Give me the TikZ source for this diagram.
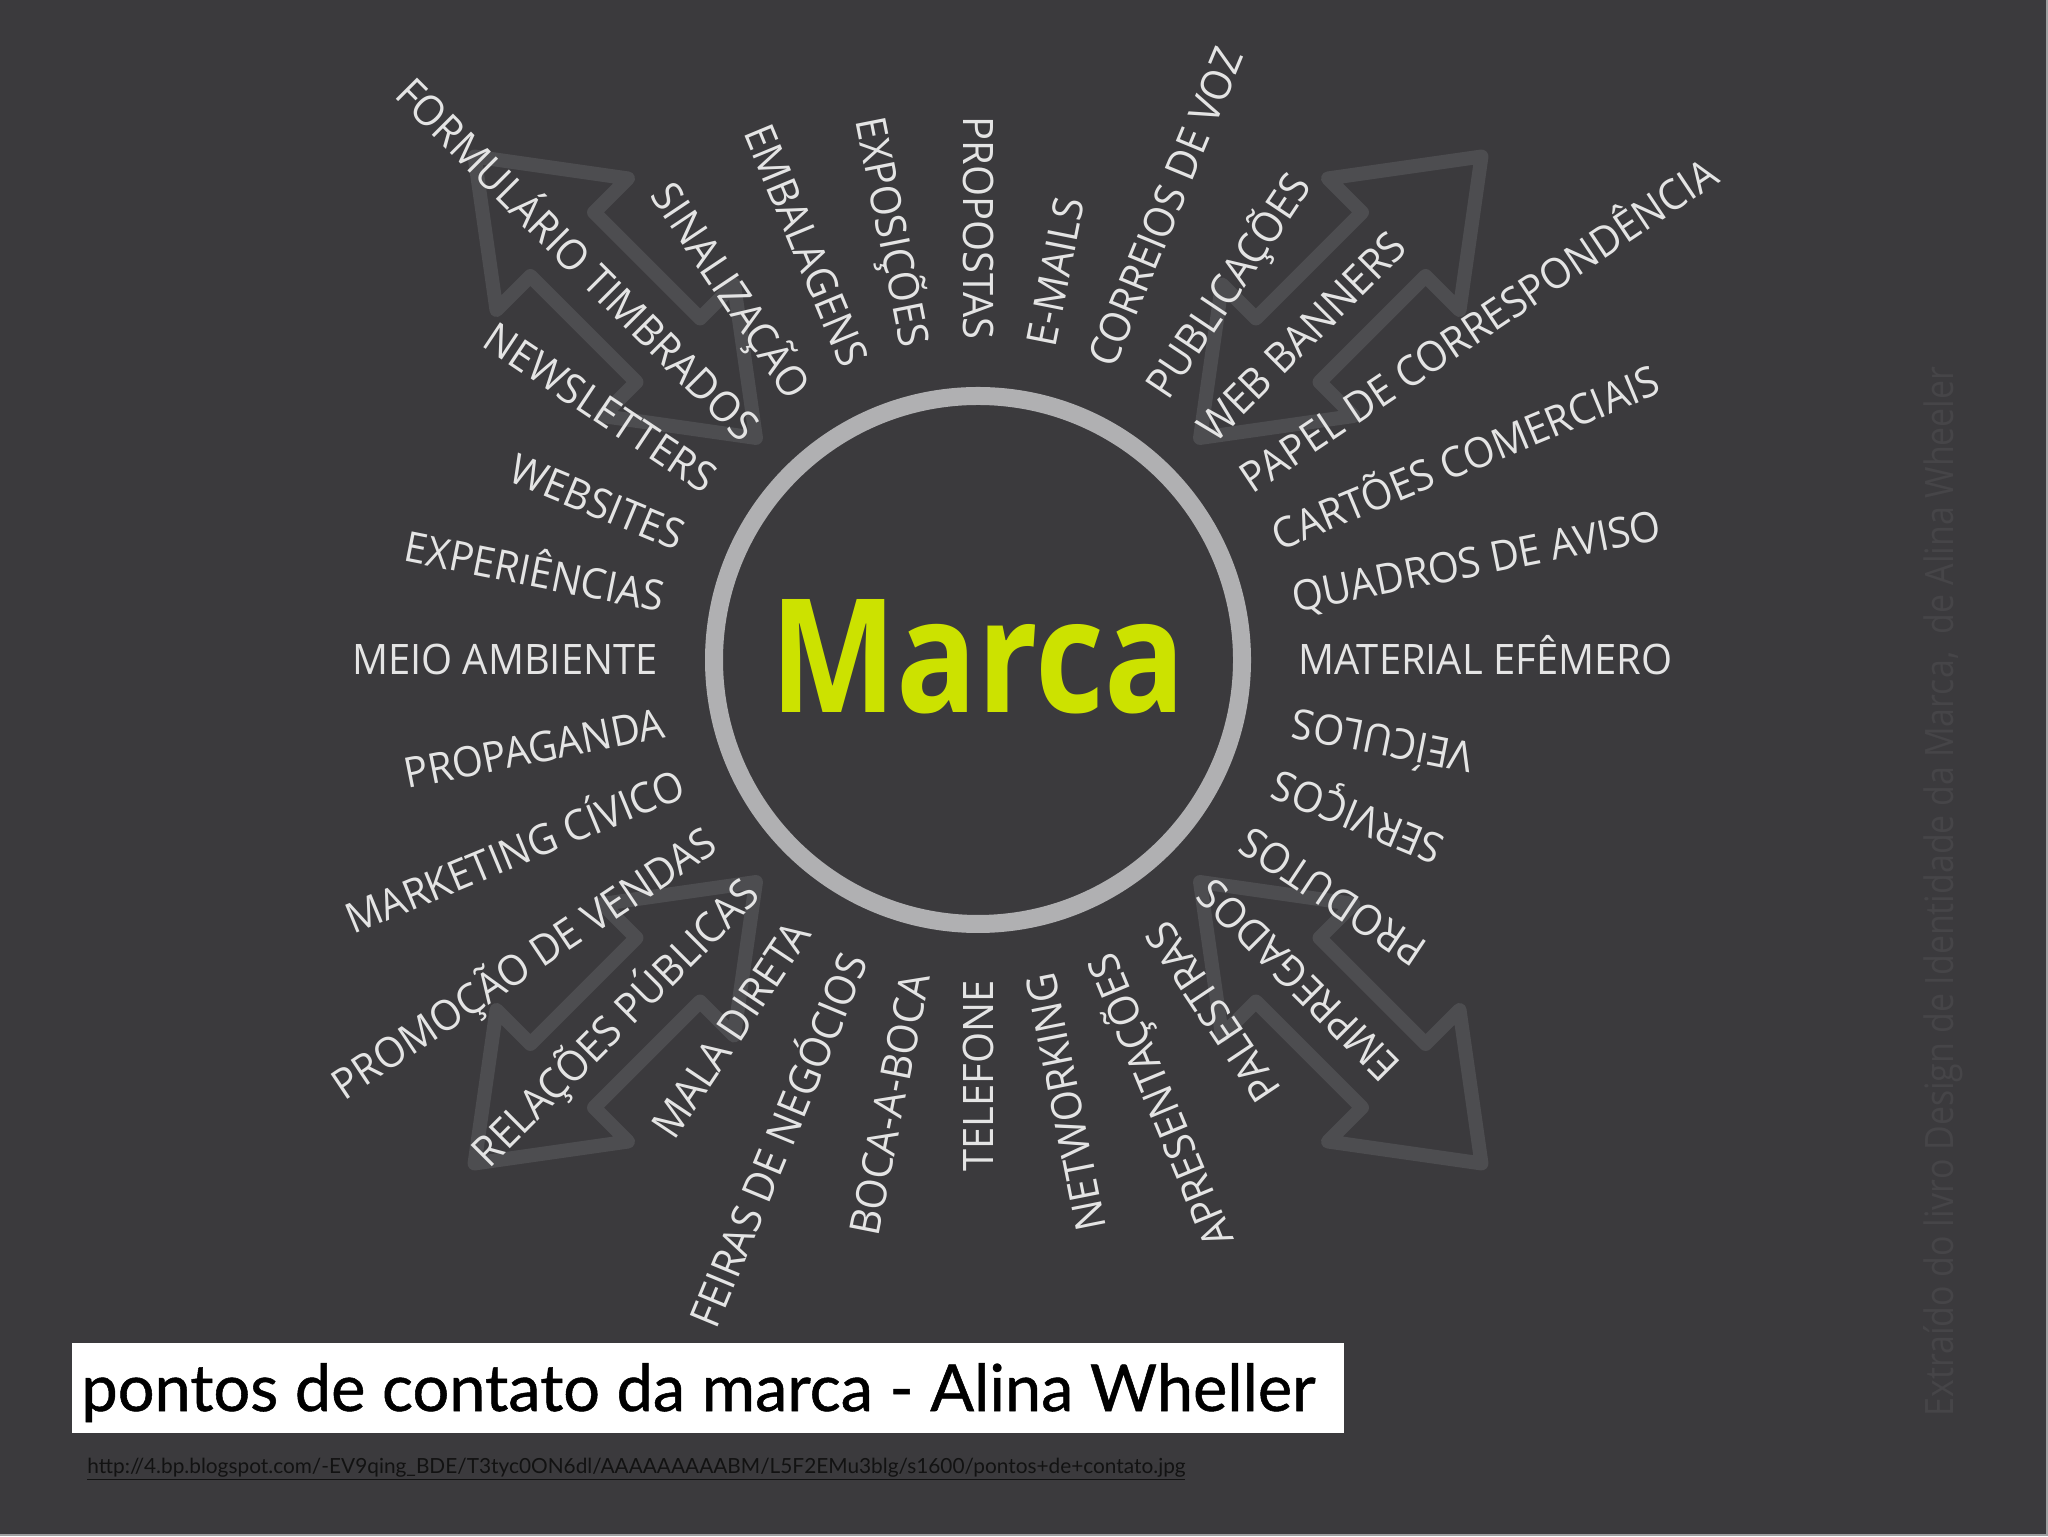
\documentclass[tikz,border=0pt]{standalone}
\usepackage{fontspec}
\usepackage{graphicx}
\usetikzlibrary{calc}
\setmainfont{Open Sans}
\newfontfamily\lblfont[FakeStretch=0.95]{Open Sans}
\newfontfamily\ttlfont[FakeBold=0.8]{Lato}
\newfontfamily\urlfont{Lato}
\definecolor{bgc}{RGB}{59,58,61}
\definecolor{lblc}{RGB}{228,228,228}
\definecolor{ringc}{RGB}{176,176,178}
\definecolor{arrc}{RGB}{77,77,80}
\definecolor{marcac}{RGB}{204,226,0}
\definecolor{wmc}{RGB}{70,69,72}
\definecolor{edgec}{RGB}{160,160,162}
\tikzset{
  lbl/.style={font=\lblfont\fontsize{21pt}{21pt}\selectfont, text=lblc, inner sep=0pt, text height=15pt, text depth=0pt},
  bigarrow/.style={draw=arrc, line width=7pt, line join=round, line cap=round}
}
\begin{document}
\begin{tikzpicture}[x=0.5pt,y=0.5pt]
\useasboundingbox (0,0) rectangle (2048,1536);
\fill[bgc] (0,0) rectangle (2048,1536);
\coordinate (C) at (978,876);

% arrows
\foreach \a in {45,135,225,315}{
  \begin{scope}[shift={(C)}, rotate=\a]
    \draw[bigarrow] (314,0) -- (438,93) -- (438,45) -- (588,45) -- (588,93) -- (712,0)
      -- (588,-93) -- (588,-45) -- (438,-45) -- (438,-93) -- cycle;
  \end{scope}
}

% labels
\foreach \k/\t in {0/MATERIAL EFÊMERO, 1/QUADROS DE AVISO, 2/CARTÕES COMERCIAIS,
  3/PAPEL DE CORRESPONDÊNCIA, 4/WEB BANNERS, 5/PUBLICAÇÕES, 6/CORREIOS DE VOZ,
  7/E-MAILS, 8/PROPOSTAS, 9/EXPOSIÇÕES, 10/EMBALAGENS, 11/SINALIZAÇÃO,
  12/FORMULÁRIO TIMBRADOS, 13/NEWSLETTERS, 14/WEBSITES, 15/EXPERIÊNCIAS,
  16/MEIO AMBIENTE, 17/PROPAGANDA, 18/MARKETING CÍVICO, 19/PROMOÇÃO DE VENDAS,
  20/RELAÇÕES PÚBLICAS, 21/MALA DIRETA, 22/FEIRAS DE NEGÓCIOS, 23/BOCA-A-BOCA,
  24/TELEFONE, 25/NETWORKING, 26/APRESENTAÇÕES, 27/PALESTRAS, 28/EMPREGADOS,
  29/PRODUTOS, 30/SERVIÇOS, 31/VEÍCULOS}{
  \pgfmathsetmacro\ang{\k*11.25}
  \ifnum\k<8
    \node[lbl, anchor=west, rotate=\ang] (l\k) at ($(C)+(\ang:320)$) {\t};
  \else
    \node[lbl, anchor=east, rotate=\ang+180] (l\k) at ($(C)+(\ang:320)$) {\t};
  \fi
}

% central ring and word
\node[circle, draw=ringc, line width=9pt, minimum size=264pt, inner sep=0pt] (ring) at (C) {};
\node[inner sep=0pt, text=marcac] (marca) at (978,879)
  {\resizebox{207.5pt}{56.5pt}{\bfseries Marca}};

% watermark
\node[rotate=90, anchor=base west, inner sep=0pt, text=wmc] (wm) at (1953,119)
  {\resizebox{525pt}{15pt}{Extraído do livro Design de Identidade da Marca,~ de Alina Wheeler}};

% title box
\node[fill=white, minimum width=636pt, minimum height=45pt, anchor=north west, inner sep=0pt] (tbox) at (72,193) {};
\node[anchor=base west, inner sep=0pt, text=black] (title) at (81,125)
  {\resizebox{617pt}{!}{\ttlfont pontos de contato da marca - Alina Wheller}};

% url
\node[anchor=base west, inner sep=0pt, text={rgb,255:red,18;green,18;blue,18}] (url) at (87,63)
  {\resizebox{549pt}{!}{\urlfont\underline{http://4.bp.blogspot.com/-EV9qing\_BDE/T3tyc0ON6dl/AAAAAAAAABM/L5F2EMu3blg/s1600/pontos+de+contato.jpg}}};

% edges
\coordinate (e1) at (2047,1536);
\coordinate (e2) at (2047,1);
\coordinate (e3) at (0,1);
\draw[edgec, line width=1pt] (e1) -- (e2) -- (e3);
\end{tikzpicture}
\end{document}
